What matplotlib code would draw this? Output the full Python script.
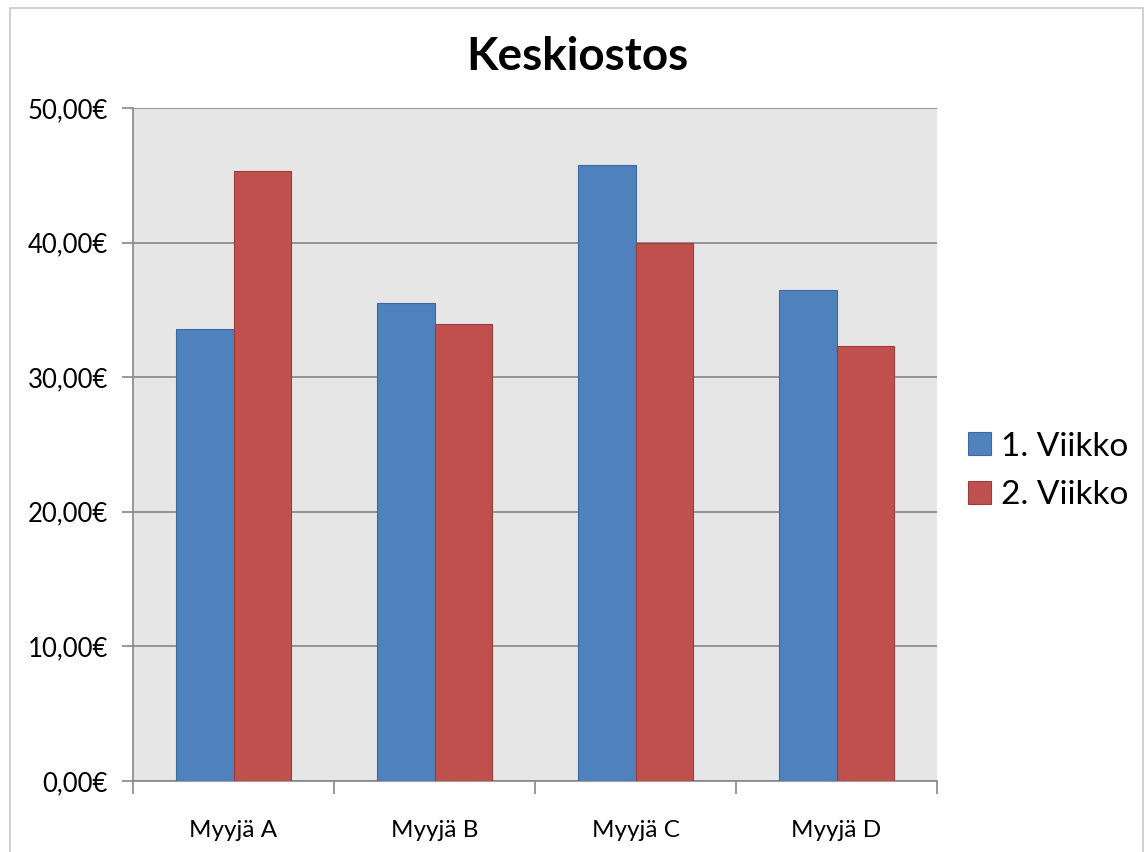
import matplotlib.pyplot as plt
import numpy as np
from matplotlib.patches import Rectangle
from matplotlib.ticker import FuncFormatter

plt.rcParams['font.family'] = ['Lato', 'DejaVu Sans']

sellers = ['Myyjä A', 'Myyjä B', 'Myyjä C', 'Myyjä D']
week1 = [33.55, 35.5, 45.8, 36.5]
week2 = [45.3, 33.95, 40.0, 32.3]
series_names = ['1. Viikko', '2. Viikko']

fig = plt.figure(figsize=(11.45, 8.52), dpi=100)
# light frame around the whole chart
fig.patches.append(Rectangle((10/1145, -0.01), 1133/1145, 1.0 - 8/852 + 0.01,
                             transform=fig.transFigure, fill=False,
                             edgecolor='#c8c8c8', linewidth=1.2))

ax = fig.add_axes([133/1145, 1 - 781/852, (937-133)/1145, (781-108)/852])
ax.set_facecolor('#e6e6e6')

x = np.arange(len(sellers))
w = 0.286
ax.bar(x - w/2, week1, w, color='#4f81bd', edgecolor='#3d6a9e', linewidth=0.8,
       label=series_names[0], zorder=3)
ax.bar(x + w/2, week2, w, color='#c0504d', edgecolor='#9b3d3a', linewidth=0.8,
       label=series_names[1], zorder=3)

ax.set_ylim(0, 50)
ax.set_xlim(-0.5, 3.5)
ax.set_yticks(np.arange(0, 51, 10))
ax.yaxis.set_major_formatter(FuncFormatter(lambda v, p: f'{v:.2f}€'.replace('.', ',')))
ax.yaxis.grid(True, color='#878787', linewidth=1.2, zorder=1)

ax.set_xticks(x)
ax.set_xticklabels(sellers)
ax.set_xticks(np.arange(-0.5, 4, 1), minor=True)
ax.tick_params(axis='x', which='major', length=0, pad=28, labelsize=17.5)
ax.tick_params(axis='x', which='minor', length=9, width=1.2, color='#878787')
ax.tick_params(axis='y', length=8, width=1.2, color='#878787', labelsize=18.5, pad=10)

for s in ['top', 'right']:
    ax.spines[s].set_visible(False)
for s in ['left', 'bottom']:
    ax.spines[s].set_color('#878787')
    ax.spines[s].set_linewidth(1.2)

fig.text(577/1145, 1 - 57/852, 'Keskiostos', ha='center', va='center',
         fontsize=33, fontweight='bold')

ax.legend(loc='center left', bbox_to_anchor=(1.0386, 0.461), frameon=False,
          fontsize=24, handlelength=0.68, handleheight=0.68, handletextpad=0.3,
          labelspacing=0.55, borderpad=0, borderaxespad=0)

fig.savefig('out.png', dpi=100)
